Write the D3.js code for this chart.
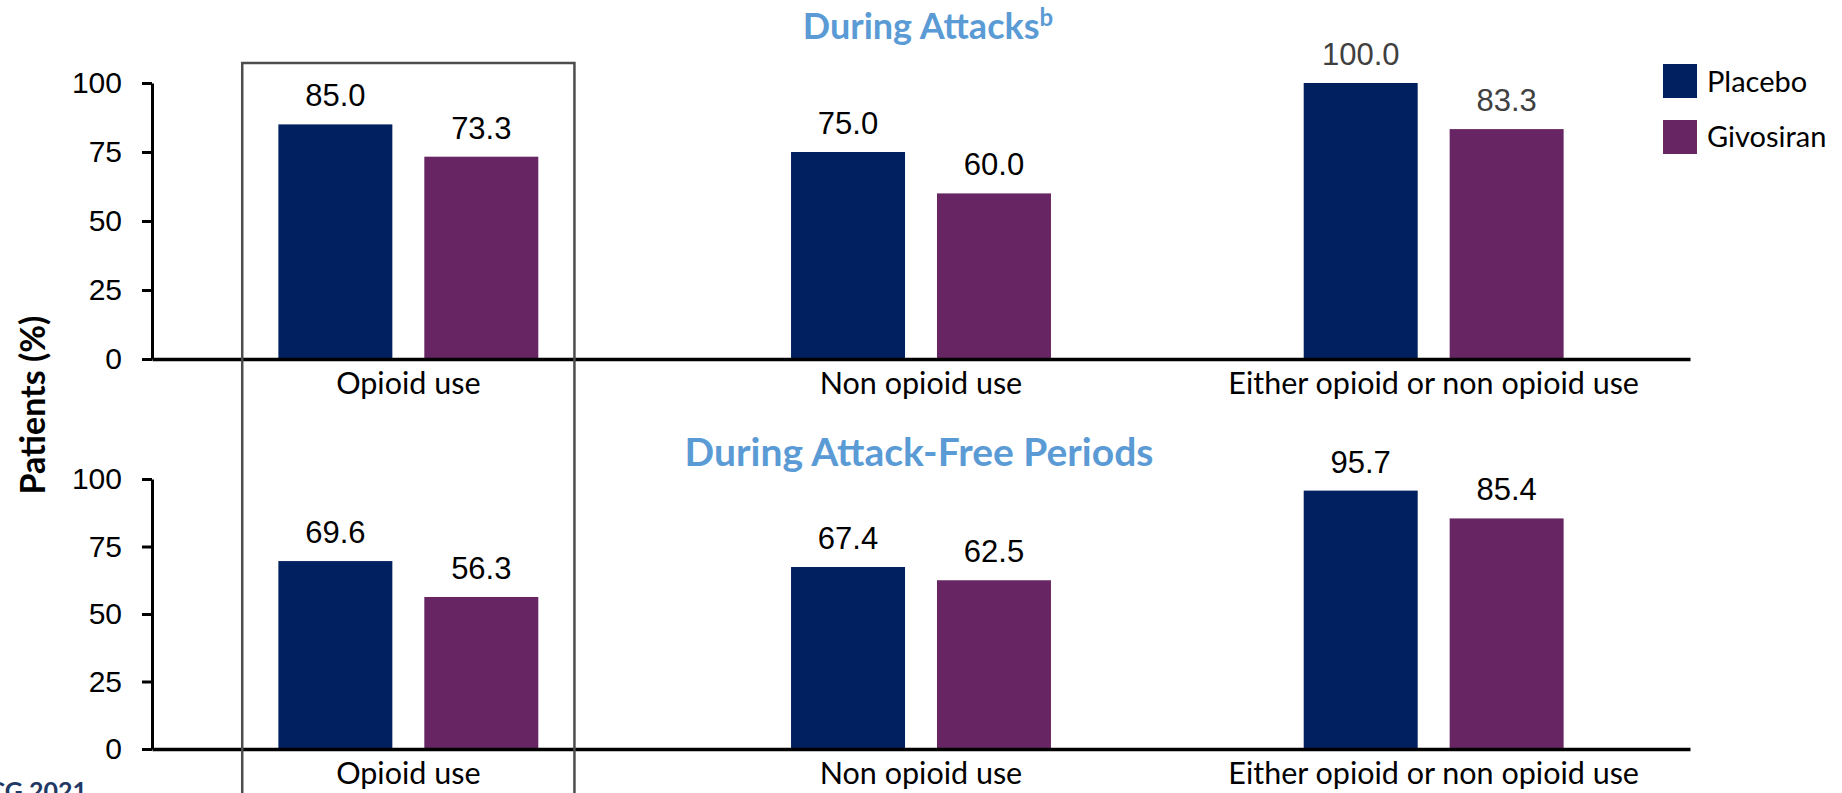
<!DOCTYPE html>
<html>
<head>
<meta charset="utf-8">
<script src="https://cdn.jsdelivr.net/npm/d3@7"></script>
<style>
  html, body { margin: 0; padding: 0; background: #ffffff; }
  svg { display: block; }
</style>
</head>
<body>
<script>
// ---- data ----
const categories = ["Opioid use", "Non opioid use", "Either opioid or non opioid use"];
const seriesNames = ["Placebo", "Givosiran"];
const attacksPlacebo = [85.0, 75.0, 100.0];
const attacksGivosiran = [73.3, 60.0, 83.3];
const freePlacebo = [69.6, 67.4, 95.7];
const freeGivosiran = [56.3, 62.5, 85.4];
const yTickValues = [0, 25, 50, 75, 100];
const panelTitles = ["During Attacks", "During Attack-Free Periods"];
const yAxisTitle = "Patients (%)";
const footText = "ACG 2021";

// ---- styles ----
const W = 1842, H = 793;
const colors = { Placebo: "#002060", Givosiran: "#672663" };
const titleBlue = "#5B9BD5";
const calibriLike = "Lato, 'Open Sans', sans-serif";
const arialLike = "'Liberation Sans', Arial, sans-serif";

const svg = d3.select("body").append("svg").attr("width", W).attr("height", H)
  .style("background", "#fff");

const x = d3.scaleBand().domain(categories).range([152, 1690]);
const bw = x.bandwidth();
const xs = d3.scaleBand().domain(seriesNames).range([-0.2535 * bw, 0.2535 * bw]).paddingInner(0.219);

const panels = [
  { title: panelTitles[0], sup: "b", values: [attacksPlacebo, attacksGivosiran], y0: 359, y1: 83, titleX: 928, titleY: 39, titleSize: 36 },
  { title: panelTitles[1], sup: null, values: [freePlacebo, freeGivosiran], y0: 749, y1: 479, titleX: 919, titleY: 466, titleSize: 39 }
];

panels.forEach((p, pi) => {
  const y = d3.scaleLinear().domain([0, 100]).range([p.y0, p.y1]);
  const g = svg.append("g");

  // title
  const t = g.append("text").attr("x", p.titleX).attr("y", p.titleY)
    .attr("text-anchor", "middle").attr("font-family", calibriLike)
    .attr("font-weight", 700).attr("font-size", p.titleSize).attr("fill", titleBlue)
    .text(p.title);
  if (p.sup) {
    t.append("tspan").attr("dy", -13).attr("font-size", 24).text(p.sup);
  }

  // bars
  seriesNames.forEach((s, si) => {
    const vals = p.values[si];
    g.selectAll(null).data(categories).enter().append("rect")
      .attr("x", (c) => x(c) + bw / 2 + xs(s))
      .attr("width", xs.bandwidth())
      .attr("y", (c, i) => y(vals[i]))
      .attr("height", (c, i) => y(0) - y(vals[i]))
      .attr("fill", colors[s]);
    g.selectAll(null).data(categories).enter().append("text")
      .attr("x", (c) => x(c) + bw / 2 + xs(s) + xs.bandwidth() / 2)
      .attr("y", (c, i) => y(vals[i]) - 18)
      .attr("text-anchor", "middle")
      .attr("font-family", arialLike).attr("font-size", 31)
      .attr("fill", (c, i) => (pi === 0 && i === 2) ? "#404040" : "#000")
      .text((c, i) => vals[i].toFixed(1));
  });

  // y axis
  const ya = g.append("g").attr("transform", `translate(${x.range()[0]},0)`)
    .call(d3.axisLeft(y).tickValues(yTickValues).tickSize(10).tickSizeOuter(0).tickPadding(20));
  ya.select(".domain").attr("stroke", "#000").attr("stroke-width", 3);
  ya.selectAll(".tick line").attr("stroke", "#000").attr("stroke-width", 3);
  ya.selectAll(".tick text").attr("font-family", arialLike).attr("font-size", 30).attr("fill", "#000");

  // x axis
  const xa = g.append("g").attr("transform", `translate(0,${y(0)})`)
    .call(d3.axisBottom(x).tickSize(0).tickSizeOuter(0).tickPadding(13));
  xa.select(".domain").attr("stroke", "#000").attr("stroke-width", 3.5);
  xa.selectAll(".tick text").attr("font-family", calibriLike).attr("font-size", 30.5).attr("fill", "#000");
});

// highlight box around the first category
const boxHalf = 0.324 * bw;
const cx0 = x(categories[0]) + bw / 2;
svg.append("path")
  .attr("d", `M${cx0 - boxHalf},${H + 5} V63 H${cx0 + boxHalf} V${H + 5}`)
  .attr("fill", "none").attr("stroke", "#4d4d4d").attr("stroke-width", 2.5);

// y-axis title
svg.append("text").attr("transform", "translate(36,405) rotate(-90)")
  .attr("text-anchor", "middle").attr("dominant-baseline", "middle")
  .attr("font-family", calibriLike).attr("font-weight", 700).attr("font-size", 34)
  .attr("fill", "#000").text(yAxisTitle);

// legend
const lg = svg.append("g");
seriesNames.forEach((s, i) => {
  lg.append("rect").attr("x", 1663).attr("y", 64 + i * 56).attr("width", 34).attr("height", 34)
    .attr("fill", colors[s]);
  lg.append("text").attr("x", 1707).attr("y", 92 + i * 55)
    .attr("font-family", calibriLike).attr("font-size", 29).attr("fill", "#000").text(s);
});

// footer text, cut off at the bottom edge as in the source slide
svg.append("text").attr("x", 87).attr("y", 800).attr("text-anchor", "end")
  .attr("font-family", calibriLike).attr("font-weight", 700).attr("font-size", 25)
  .attr("fill", "#1F3864").text(footText);
</script>
</body>
</html>
